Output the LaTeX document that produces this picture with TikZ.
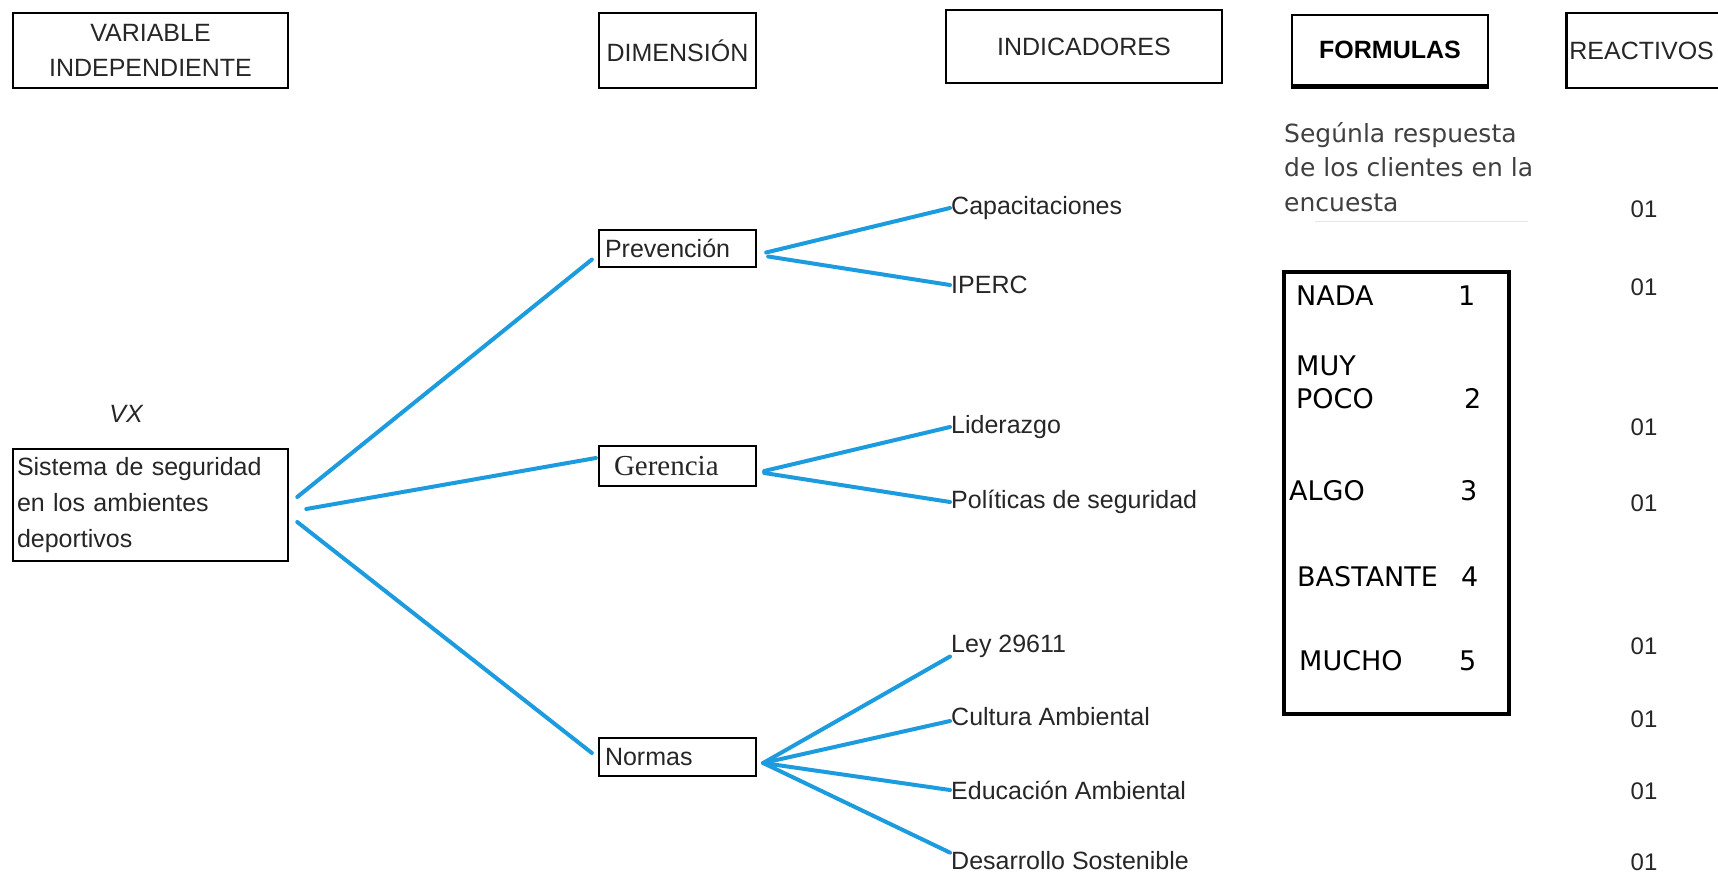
\documentclass[tikz,border=0pt]{standalone}
\usepackage{fontspec}
\setmainfont{Liberation Sans}
\newfontfamily\serifgr{Liberation Serif}
\newfontfamily\widefont{DejaVu Sans}
\definecolor{linkblue}{RGB}{28,156,222}
\begin{document}
\begin{tikzpicture}[x=1pt, y=-1pt,
    headbox/.style={draw, line width=2.8pt, align=center, inner sep=0pt,
      font=\fontsize{25}{35}\selectfont, text=black!85},
    dimbox/.style={draw, line width=2.3pt, minimum width=157pt, text width=145pt,
      inner xsep=6pt, inner ysep=0pt, align=left, font=\fontsize{25}{30}\selectfont,
      text=black!85},
    indtext/.style={anchor=west, inner sep=1pt, font=\fontsize{25}{30}\selectfont,
      text=black!85},
    scaletext/.style={anchor=west, inner sep=0pt, font=\widefont\fontsize{27}{33}\selectfont},
    reactext/.style={inner sep=0pt, font=\fontsize{24}{30}\selectfont, text=black!85},
    link/.style={draw=linkblue, line width=4pt, line cap=round}]

      % Fix the frame of the picture
      \useasboundingbox (0,0) rectangle (1718,877);
      \clip (0,0) rectangle (1718,877);

      % Draw the column headings
      \node[headbox, minimum width=275pt, minimum height=75pt] (var) at (150.5,50.5)
      {VARIABLE\\INDEPENDIENTE};
      \node[headbox, minimum width=157pt, minimum height=75pt] (dim) at (677.5,50.5)
      {DIMENSIÓN};
      \node[headbox, minimum width=276pt, minimum height=73pt] (ind) at (1084,46.5)
      {INDICADORES};
      \node[headbox, minimum width=196pt, minimum height=70pt, text=black,
      font=\bfseries\fontsize{25}{30}\selectfont] (form) at (1390,50) {FORMULAS};
      \draw[line width=4.5pt] (form.south west) -- (form.south east);
      \node[headbox, anchor=west, minimum width=180pt, minimum height=75pt,
      text width=174pt, inner xsep=3pt, align=left] (reac) at (1565,50.5) {REACTIVOS};

      % Draw the variable
      \node[font=\itshape\fontsize{25}{30}\selectfont, text=black!85] (vx) at (126,414) {VX};
      \node[draw, line width=2.5pt, minimum width=275pt, minimum height=112pt,
      text width=267pt, inner xsep=4pt, align=left, text=black!85,
      font=\fontsize{25}{36}\selectfont] (sis) at (150.5,505)
      {Sistema de seguridad\\en los ambientes\\deportivos};

      % Draw the dimensions
      \node[dimbox, minimum height=37pt] (prev) at (677.5,248.5) {Prevención};
      \node[dimbox, minimum height=40pt, font=\serifgr\fontsize{29}{30}\selectfont]
      (ger) at (677.5,466) {\hspace{9pt}Gerencia};
      \node[dimbox, minimum height=38pt] (norm) at (677.5,757) {Normas};

      % Draw the indicators
      \node[indtext] (cap) at (950,208) {Capacitaciones};
      \node[indtext] (iperc) at (950,285) {IPERC};
      \node[indtext] (lid) at (950,427) {Liderazgo};
      \node[indtext] (pol) at (950,502) {Políticas de seguridad};
      \node[indtext] (ley) at (950,646) {Ley 29611};
      \node[indtext] (cult) at (950,717) {Cultura Ambiental};
      \node[indtext] (edu) at (950,790) {Educación Ambiental};
      \node[indtext] (des) at (950,861) {Desarrollo Sostenible};

      % Connect the variable with its dimensions
      \draw[link] ([xshift=8pt,yshift=8pt]sis.east) -- ([xshift=-6pt,yshift=-11pt]prev.west);
      \draw[link] ([xshift=17pt,yshift=-4pt]sis.east) -- ([xshift=-2pt,yshift=8pt]ger.west);
      \draw[link] ([xshift=8pt,yshift=-17pt]sis.east) -- ([xshift=-6pt,yshift=4pt]norm.west);

      % Connect the dimensions with their indicators
      \draw[link] ([xshift=9pt,yshift=-4pt]prev.east) -- (cap.west);
      \draw[link] ([xshift=11pt,yshift=-8pt]prev.east) -- (iperc.west);
      \draw[link] ([xshift=7pt,yshift=-5pt]ger.east) -- (lid.west);
      \draw[link] ([xshift=7pt,yshift=-7pt]ger.east) -- (pol.west);
      \draw[link] ([xshift=6pt,yshift=-6pt]norm.east) -- ([yshift=2pt]ley.south west);
      \draw[link] ([xshift=6pt,yshift=-6pt]norm.east) -- ([yshift=-4pt]cult.west);
      \draw[link] ([xshift=6pt,yshift=-6pt]norm.east) -- (edu.west);
      \draw[link] ([xshift=6pt,yshift=-6pt]norm.east) -- ([yshift=-2pt]des.north west);

      % Draw the survey note and the answer scale
      \node[anchor=north west, inner sep=0pt, align=left, text=black!75,
      font=\widefont\fontsize{25}{34.5}\selectfont] (seg) at (1284,122)
      {Segúnla respuesta\\de los clientes en la\\encuesta};
      \draw[black!10, line width=1pt] (1315,222) -- (1528,222);
      \node[draw, line width=4pt, minimum width=225pt, minimum height=442pt] (scale)
      at (1396.5,493) {};
      \node[scaletext] (nada) at (1296,296) {NADA};
      \node[scaletext] (v1) at (1458,296) {1};
      \node[scaletext, align=left] (poco) at (1296,382) {MUY\\POCO};
      \node[scaletext] (v2) at (1464,398) {2};
      \node[scaletext] (algo) at (1289,491) {ALGO};
      \node[scaletext] (v3) at (1460,491) {3};
      \node[scaletext] (bast) at (1297,577) {BASTANTE};
      \node[scaletext] (v4) at (1461,577) {4};
      \node[scaletext] (mucho) at (1299,661) {MUCHO};
      \node[scaletext] (v5) at (1459,661) {5};

      % Draw the items
      \node[reactext] (r1) at (1644,209) {01};
      \node[reactext] (r2) at (1644,287) {01};
      \node[reactext] (r3) at (1644,427) {01};
      \node[reactext] (r4) at (1644,503) {01};
      \node[reactext] (r5) at (1644,646) {01};
      \node[reactext] (r6) at (1644,719) {01};
      \node[reactext] (r7) at (1644,791) {01};
      \node[reactext] (r8) at (1644,862) {01};
    \end{tikzpicture}
\end{document}
